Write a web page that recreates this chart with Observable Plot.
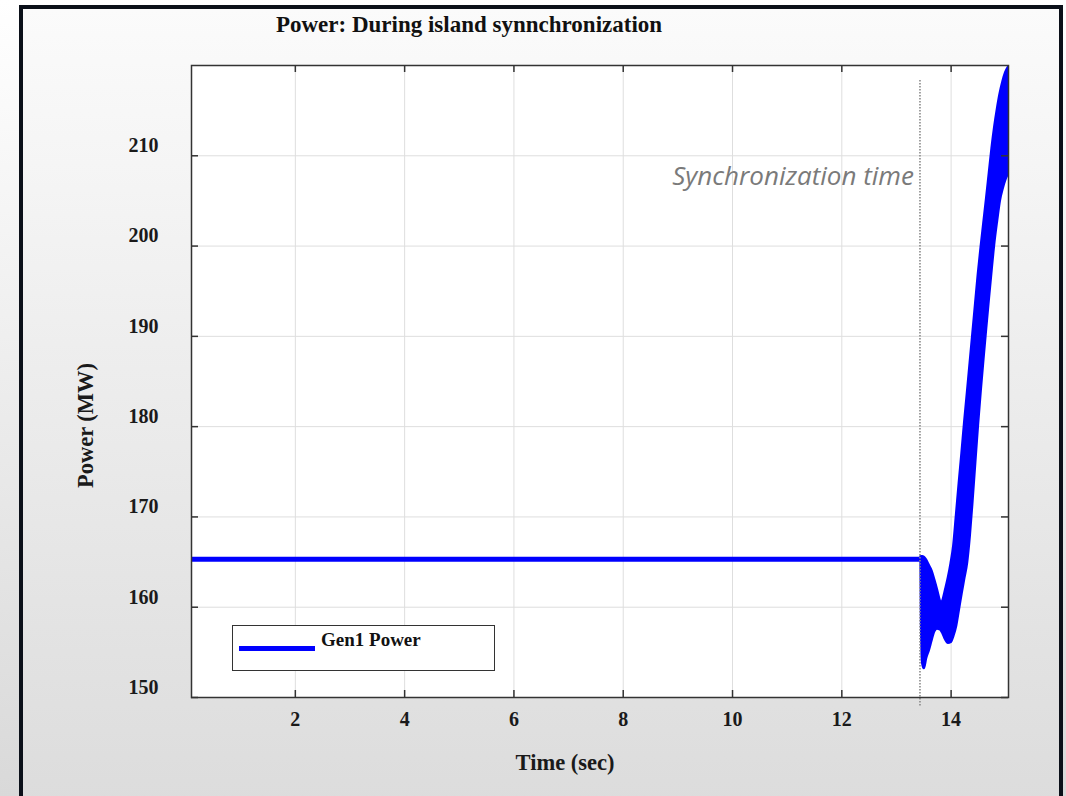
<!DOCTYPE html>
<html>
<head>
<meta charset="utf-8">
<script src="https://cdn.jsdelivr.net/npm/d3@7"></script>
<script src="https://cdn.jsdelivr.net/npm/@observablehq/plot@0.6"></script>
<style>
  html, body { margin: 0; padding: 0; }
  body { width: 1066px; height: 796px; overflow: hidden; position: relative;
         background: linear-gradient(#ffffff, #d9d9d9); }
  #frame { position: absolute; left: 19px; top: 5px; width: 1036px; height: 840px;
           border: 4px solid #0b1019; background: linear-gradient(#fbfbfb 0%, #dcdcdc 95%); }
  #chart { position: absolute; left: 0; top: 0; width: 1066px; }
  #title { width: 938px; height: 40px; box-sizing: border-box; padding-top: 12px;
           text-align: center; font: bold 23px "Liberation Serif", serif; line-height: 26px; color: #111; }
  #legend { position: absolute; left: 232px; top: 625px; width: 261px; height: 44px;
            border: 1px solid #333; background: #fff; }
  #legend .swatch { position: absolute; left: 6px; top: 20px; width: 76px; height: 5px; background: #0000ff; }
  #legend .label { position: absolute; left: 88px; top: 3px; font: bold 19px "Liberation Serif", serif; color: #111; }
</style>
</head>
<body>
<div id="frame"></div>
<div id="chart">
  <div id="title">Power: During island synnchronization</div>
</div>
<div id="legend"><div class="swatch"></div><div class="label">Gen1 Power</div></div>
<script>
// ---- data ----
const xTicks = [2, 4, 6, 8, 10, 12, 14];
const yTicks = [150, 160, 170, 180, 190, 200, 210];
const xDomain = [0.1, 15.05];
const yDomain = [150, 220];

// steady state before synchronization
const flatTime = [0.1, 13.46];
const flatPower = [165.3, 165.3];

// oscillation envelope after synchronization (fast oscillation drawn as a band)
const bandTime  = [13.45, 13.46, 13.48, 13.51, 13.55, 13.6, 13.65, 13.7, 13.75, 13.8, 13.82, 13.85, 13.9, 13.95, 14.0, 14.05, 14.1, 14.15, 14.2, 14.25, 14.3, 14.35, 14.4, 14.45, 14.5, 14.55, 14.6, 14.65, 14.7, 14.75, 14.8, 14.85, 14.9, 14.95, 15.0, 15.05];
const bandUpper = [165.6, 165.6, 165.6, 165.5, 165.2, 164.6, 164.0, 163.0, 161.9, 160.7, 160.4, 160.7, 161.9, 163.2, 164.8, 166.8, 170.2, 173.7, 177.0, 180.5, 183.7, 187.0, 190.3, 193.6, 196.9, 199.8, 202.5, 205.2, 208.0, 210.8, 213.2, 215.2, 216.9, 218.2, 219.2, 219.8];
const bandLower = [165.0, 158.0, 153.8, 153.2, 154.3, 155.2, 156.3, 157.3, 157.6, 157.5, 157.4, 157.1, 156.4, 156.0, 156.1, 156.8, 157.9, 159.7, 161.5, 163.2, 164.9, 167.9, 171.8, 176.0, 180.2, 184.0, 187.5, 190.9, 194.2, 197.4, 200.4, 202.8, 205.0, 206.3, 207.3, 208.0];

const syncTime = 13.43;
const syncLabel = "Synchronization time";
const syncLabelPower = 207.7;
const xLabel = "Time (sec)";
const yLabel = "Power (MW)";

// ---- build tables ----
const flat = flatTime.map((t, i) => ({t, p: flatPower[i]}));
const band = bandTime.map((t, i) => ({t, lo: bandLower[i], hi: bandUpper[i]}));

const W = 1066, H = 756;
const mL = 191, mR = 58, mT = 25, mB = 99;
const pw = W - mL - mR, ph = H - mT - mB;
const tickLen = 7;
const serif = "Liberation Serif, Times New Roman, serif";

const chart = Plot.plot({
  width: W, height: H,
  marginLeft: mL, marginRight: mR, marginTop: mT, marginBottom: mB,
  x: {domain: xDomain},
  y: {domain: yDomain},
  style: {fontFamily: serif, background: "transparent", overflow: "visible", color: "#111"},
  marks: [
    Plot.frame({fill: "#ffffff", stroke: null}),
    Plot.gridX(xTicks, {stroke: "#dedede", strokeOpacity: 1, strokeWidth: 1}),
    Plot.gridY(yTicks, {stroke: "#dedede", strokeOpacity: 1, strokeWidth: 1}),
    Plot.lineY(flat, {x: "t", y: "p", stroke: "#0000ff", strokeWidth: 5, clip: true}),
    Plot.areaY(band, {x: "t", y1: "lo", y2: "hi", curve: "monotone-x", fill: "#0000ff", stroke: "#0000ff", strokeWidth: 2.5, clip: true}),
    Plot.ruleX([syncTime], {stroke: "#8a8a8a", strokeWidth: 1.6, strokeDasharray: "1.4,1.6", insetTop: 15, insetBottom: -9}),
    Plot.text([syncLabel], {x: syncTime, y: syncLabelPower, text: d => d, textAnchor: "end", dx: -6,
      fontFamily: "Open Sans, sans-serif", fontStyle: "italic", fontSize: 26, fill: "#7a7a7a"}),
    // inward ticks on all four sides
    Plot.ruleX(xTicks, {x: d => d, insetTop: ph - tickLen, stroke: "#333", strokeWidth: 1.5}),
    Plot.ruleX(xTicks, {x: d => d, insetBottom: ph - tickLen, stroke: "#333", strokeWidth: 1.5}),
    Plot.ruleY(yTicks, {y: d => d, insetRight: pw - tickLen, stroke: "#333", strokeWidth: 1.5}),
    Plot.ruleY(yTicks, {y: d => d, insetLeft: pw - tickLen, stroke: "#333", strokeWidth: 1.5}),
    Plot.frame({stroke: "#333", strokeWidth: 1.5}),
    Plot.axisX({ticks: xTicks, tickSize: 0, tickPadding: 14, fontSize: 20, fontWeight: "bold", label: null, fill: "#1a1a1a"}),
    Plot.axisY({ticks: yTicks, tickSize: 0, tickPadding: 33, dy: -10, fontSize: 20, fontWeight: "bold", label: null, fill: "#1a1a1a"}),
    Plot.text([xLabel], {frameAnchor: "bottom", text: d => d, dy: 65, dx: -35, fontSize: 22.5, fontWeight: "bold", fill: "#1a1a1a", lineAnchor: "middle", textAnchor: "middle"}),
    Plot.text([yLabel], {frameAnchor: "left", text: d => d, dx: -106, dy: 44, rotate: -90, fontSize: 22.5, fontWeight: "bold", fill: "#1a1a1a", lineAnchor: "middle", textAnchor: "middle"})
  ]
});
document.getElementById("chart").appendChild(chart);
</script>
</body>
</html>
